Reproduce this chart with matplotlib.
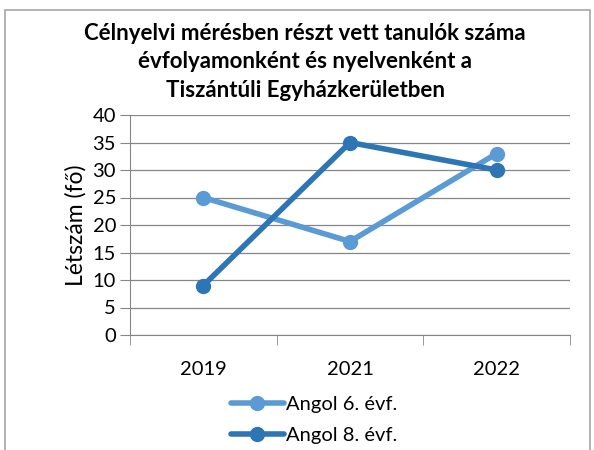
import matplotlib.pyplot as plt
from matplotlib.patches import Rectangle

plt.rcParams['font.family'] = ['Lato', 'DejaVu Sans']

years = ['2019', '2021', '2022']
angol6 = [25, 17, 33]
angol8 = [9, 35, 30]
series_names = ['Angol 6. évf.', 'Angol 8. évf.']
title = ('Célnyelvi mérésben részt vett tanulók száma\n'
         'évfolyamonként és nyelvenként a\n'
         'Tiszántúli Egyházkerületben')

W, H = 594, 450
fig = plt.figure(figsize=(W / 100, H / 100), dpi=100)
ax = fig.add_axes([130 / W, 1 - 335 / H, 440 / W, 220 / H])

x = range(len(years))
ax.plot(x, angol6, color='#5B9BD5', lw=4, marker='o', ms=10, label=series_names[0],
        solid_capstyle='round', zorder=3)
ax.plot(x, angol8, color='#2E75B6', lw=4, marker='o', ms=10, label=series_names[1],
        solid_capstyle='round', zorder=4)

ax.set_xlim(-0.5, len(years) - 0.5)
ax.set_ylim(0, 40)
ax.set_yticks(range(0, 41, 5))
ax.set_xticks(list(x))
ax.set_xticklabels(years)
ax.set_xticks([i - 0.5 for i in range(len(years) + 1)], minor=True)
ax.tick_params(axis='x', which='major', length=0, pad=19, labelsize=14.5)
ax.tick_params(axis='x', which='minor', length=7, color='#868686', direction='out')
ax.tick_params(axis='y', length=7, color='#868686', direction='out', pad=3, labelsize=14.5)
ax.grid(axis='y', color='#868686', lw=0.9)
ax.set_axisbelow(True)
for s in ['top', 'right']:
    ax.spines[s].set_visible(False)
for s in ['left', 'bottom']:
    ax.spines[s].set_color('#868686')
ax.set_ylabel('Létszám (fő)', fontsize=16.5, labelpad=4)

fig.text(305 / W, 1 - 62 / H, title, ha='center', va='center', fontsize=16,
         fontweight='bold', linespacing=1.45)

fig.legend(loc='center', bbox_to_anchor=(314 / W, 1 - 420 / H), frameon=False,
           fontsize=14.5, handlelength=2.6, handletextpad=0.1, labelspacing=0.7,
           borderaxespad=0)

fig.patches.append(Rectangle((5 / W, -0.1), 585 / W, 1.1 - 10 / H, transform=fig.transFigure,
                             fill=False, edgecolor='#A6A6A6', lw=1.2))

fig.savefig('out.png', dpi=100)
